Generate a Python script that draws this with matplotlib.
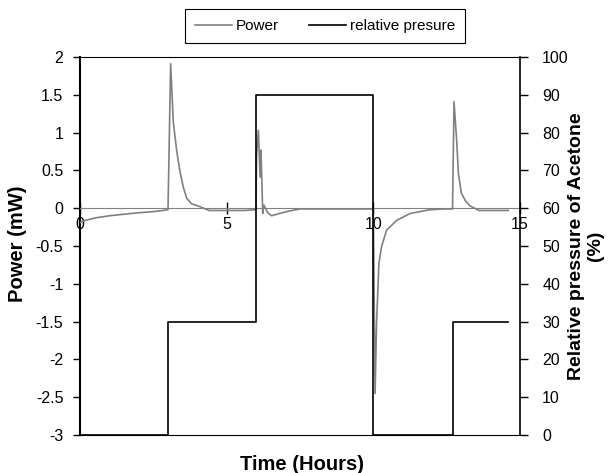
import matplotlib.pyplot as plt
from matplotlib.ticker import FormatStrFormatter

plt.rcParams['font.family'] = ['Liberation Sans', 'DejaVu Sans']

# power signal (mW)
t_power = [0, 0.2, 0.5, 1.0, 1.5, 2.0, 2.5, 2.73, 3.0,
           3.09, 3.18, 3.3, 3.41, 3.52, 3.64, 3.8, 4.09, 4.4, 5.0, 5.6, 6.0,
           6.02, 6.08, 6.14, 6.17, 6.23, 6.27, 6.4, 6.53, 6.8, 7.1, 7.5, 8.5, 9.5, 10.0,
           10.06, 10.11, 10.19, 10.28, 10.45, 10.8, 11.25, 11.93, 12.4, 12.7,
           12.75, 12.84, 12.9, 13.0, 13.15, 13.3, 13.6, 14.2, 14.6]
p_power = [-0.19, -0.16, -0.13, -0.1, -0.08, -0.06, -0.045, -0.035, -0.02,
           1.91, 1.14, 0.75, 0.48, 0.28, 0.13, 0.06, 0.02, -0.03, -0.03, -0.03, -0.02,
           0.7, 1.03, 0.41, 0.77, -0.07, 0.04, -0.06, -0.1, -0.07, -0.04, -0.01, -0.01, -0.01, -0.01,
           -2.45, -1.52, -0.73, -0.51, -0.29, -0.16, -0.07, -0.02, -0.01, -0.01,
           1.41, 0.9, 0.46, 0.2, 0.09, 0.03, -0.03, -0.03, -0.03]

# relative pressure of acetone (%)
t_press = [0, 3, 3, 6, 6, 10, 10, 12.7, 12.7, 14.6]
p_press = [0, 0, 30, 30, 90, 90, 0, 0, 30, 30]

fig = plt.figure(figsize=(6.08, 4.73), dpi=100)
ax = fig.add_axes([80/608, 38/473, 440/608, 378/473])
ax2 = ax.twinx()

ln1, = ax.plot(t_power, p_power, color='#808080', lw=1.2, label='Power', zorder=3)
ln2, = ax2.plot(t_press, p_press, color='black', lw=1.2, label='relative presure')

ax.set_xlim(0, 15)
ax.set_ylim(-3, 2)
ax2.set_ylim(0, 100)
ax.set_yticks([-3, -2.5, -2, -1.5, -1, -0.5, 0, 0.5, 1, 1.5, 2])
ax.yaxis.set_major_formatter(FormatStrFormatter('%g'))
ax2.set_yticks(range(0, 101, 10))
ax.set_xticks([0, 5, 10, 15])

# x axis crosses at zero
ax.spines['bottom'].set_position(('data', 0))
ax.spines['bottom'].set_color('#808080')
ax.spines['top'].set_visible(False)
ax.spines['right'].set_visible(False)
ax2.spines['left'].set_visible(False)
for s in ['bottom', 'top', 'right']:
    ax2.spines[s].set_color('black')
ax.spines['left'].set_linewidth(1.5)
ax2.spines['right'].set_linewidth(1.2)

ax.tick_params(axis='x', direction='inout', length=8, width=1, pad=2, labelsize=11.5)
ax.tick_params(axis='y', direction='out', length=5, width=1, pad=7, labelsize=11.5)
ax2.tick_params(axis='y', direction='out', length=6, width=1, pad=10, labelsize=11.5)

fig.text(302/608, 1-464/473, 'Time (Hours)', ha='center', va='center',
         fontsize=14.5, fontweight='bold')
fig.text(18/608, 1-244/473, 'Power (mW)', ha='center', va='center',
         rotation=90, fontsize=14.5, fontweight='bold')
fig.text(586/608, 1-246/473, 'Relative pressure of Acetone\n(%)', ha='center',
         va='center', rotation=90, fontsize=14, fontweight='bold', linespacing=1.1)

leg = fig.legend([ln1, ln2], ['Power', 'relative presure'], loc='center',
                 bbox_to_anchor=(325/608, 1-26/473), ncol=2, fontsize=11,
                 fancybox=False, edgecolor='black', framealpha=1,
                 handlelength=2.4, handletextpad=0.25, columnspacing=2.0,
                 borderpad=0.65, borderaxespad=0)
leg.get_frame().set_linewidth(0.8)

fig.savefig('out.png', dpi=100)
